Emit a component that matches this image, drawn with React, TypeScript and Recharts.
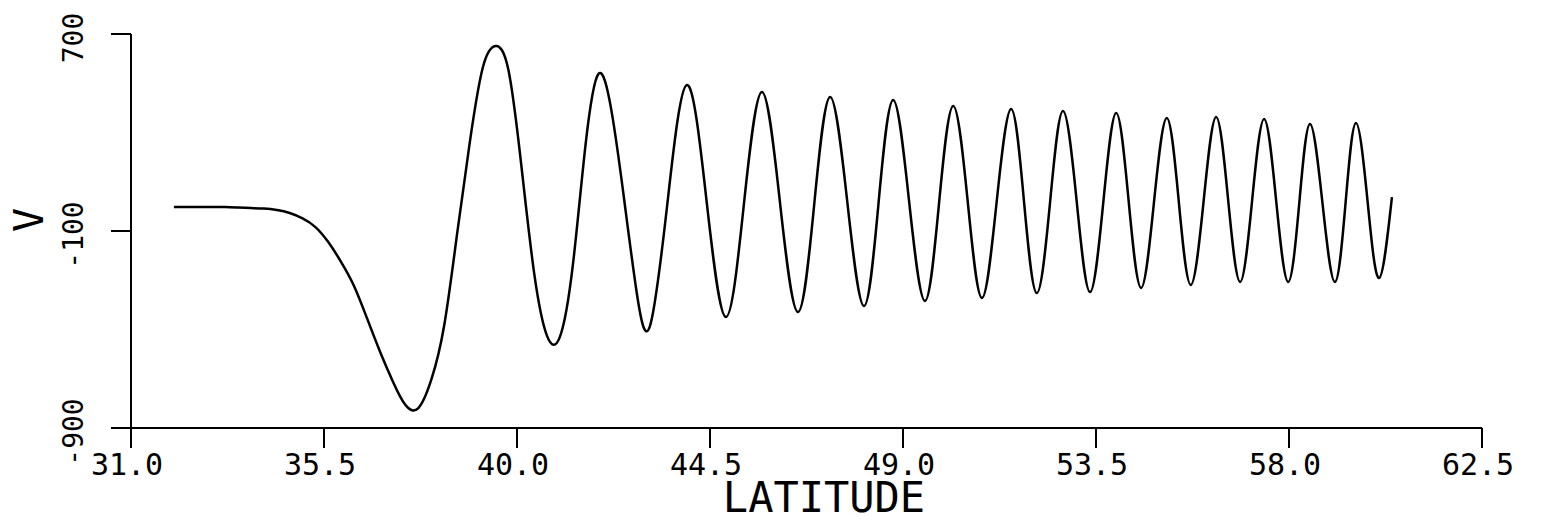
import React from "react";
import { LineChart, Line, XAxis, YAxis, Label } from "recharts";

const latitude = [
  32.0, 32.3, 32.6, 32.9, 33.2, 33.5, 33.8, 34.1, 34.4, 34.7,
  35.0, 35.3, 35.6, 35.9, 36.2, 36.5, 36.8, 37.1, 37.4, 37.7,
  38.0, 38.3, 38.6, 38.9, 39.2, 39.5, 39.8, 40.1, 40.4, 40.7,
  41.0, 41.3, 41.6, 41.9, 42.2, 42.5, 42.8, 43.1,
  43.5, 43.96, 44.42, 44.87, 45.29, 45.71, 46.13, 46.55, 46.93, 47.3,
  47.7, 48.09, 48.43, 48.77, 49.14, 49.51, 49.84, 50.17, 50.51, 50.84,
  51.18, 51.52, 51.82, 52.12, 52.43, 52.73, 53.05, 53.36, 53.67, 53.97,
  54.26, 54.55, 54.85, 55.15, 55.43, 55.71, 56.01, 56.3, 56.58, 56.86,
  57.14, 57.42, 57.7, 57.98, 58.24, 58.49, 58.78, 59.07, 59.32, 59.56,
  59.83, 60.1, 60.4,
];

const vValues = [
  -3, -3, -3, -3, -3, -5, -7, -9, -15, -27,
  -49, -84, -145, -226, -323, -453, -587, -709, -807, -819,
  -705, -486, -116, 261, 562, 651, 554, 168, -271, -526,
  -530, -242, 253, 538, 391, 26, -360, -486,
  2, 493, 22, -449, 8, 464, 18, -429, 8, 444,
  20, -405, 14, 432, 24, -384, 12, 408, 18, -372,
  12, 395, 22, -352, 18, 387, 20, -348, 16, 379,
  24, -331, 14, 359, 20, -319, 22, 363, 28, -307,
  24, 355, 24, -307, 14, 335, 14, -307, 16, 339,
  24, -291, 38,
];

const xTicks = [31.0, 35.5, 40.0, 44.5, 49.0, 53.5, 58.0, 62.5];
const yTicks = [-900, -100, 700];

const data = latitude.map((lat, i) => ({ lat, v: vValues[i] }));

const FONT = "'DejaVu Sans Mono', monospace";

const XTick = (props: any) => {
  const { x, y, payload } = props;
  return (
    <text
      x={x - 4}
      y={y + 25}
      textAnchor="middle"
      fontFamily={FONT}
      fontSize={30}
      fill="#000"
    >
      {Number(payload.value).toFixed(1)}
    </text>
  );
};

const YTick = (props: any) => {
  const { x, y, payload } = props;
  const bx = x - 26;
  const by = y + 4;
  return (
    <text
      x={bx}
      y={by}
      transform={`rotate(-90, ${bx}, ${by})`}
      textAnchor="middle"
      fontFamily={FONT}
      fontSize={28}
      fill="#000"
    >
      {String(payload.value)}
    </text>
  );
};

export default function App() {
  return (
    <div style={{ position: "absolute", left: 0, top: 0, background: "#fff" }}>
      <LineChart
        width={1541}
        height={521}
        data={data}
        margin={{ top: 34, right: 59, left: 31, bottom: 33 }}
      >
        <XAxis
          dataKey="lat"
          type="number"
          domain={[31, 62.5]}
          ticks={xTicks}
          interval={0}
          height={60}
          stroke="#000"
          strokeWidth={2}
          tickSize={20}
          tickLine={{ stroke: "#000", strokeWidth: 2 }}
          tick={<XTick />}
          allowDataOverflow
        >
          <Label
            content={() => (
              <text
                x={824}
                y={512}
                textAnchor="middle"
                fontFamily={FONT}
                fontSize={42}
                fill="#000"
              >
                LATITUDE
              </text>
            )}
          />
        </XAxis>
        <YAxis
          type="number"
          domain={[-900, 700]}
          ticks={yTicks}
          interval={0}
          width={100}
          stroke="#000"
          strokeWidth={2}
          tickSize={20}
          tickLine={{ stroke: "#000", strokeWidth: 2 }}
          tick={<YTick />}
          allowDataOverflow
        >
          <Label
            content={() => (
              <text
                x={43}
                y={220}
                transform="rotate(-90, 43, 220)"
                textAnchor="middle"
                fontFamily={FONT}
                fontSize={40}
                fill="#000"
              >
                V
              </text>
            )}
          />
        </YAxis>
        <Line
          type="natural"
          dataKey="v"
          stroke="#000"
          strokeWidth={2.5}
          dot={false}
          isAnimationActive={false}
        />
      </LineChart>
    </div>
  );
}
